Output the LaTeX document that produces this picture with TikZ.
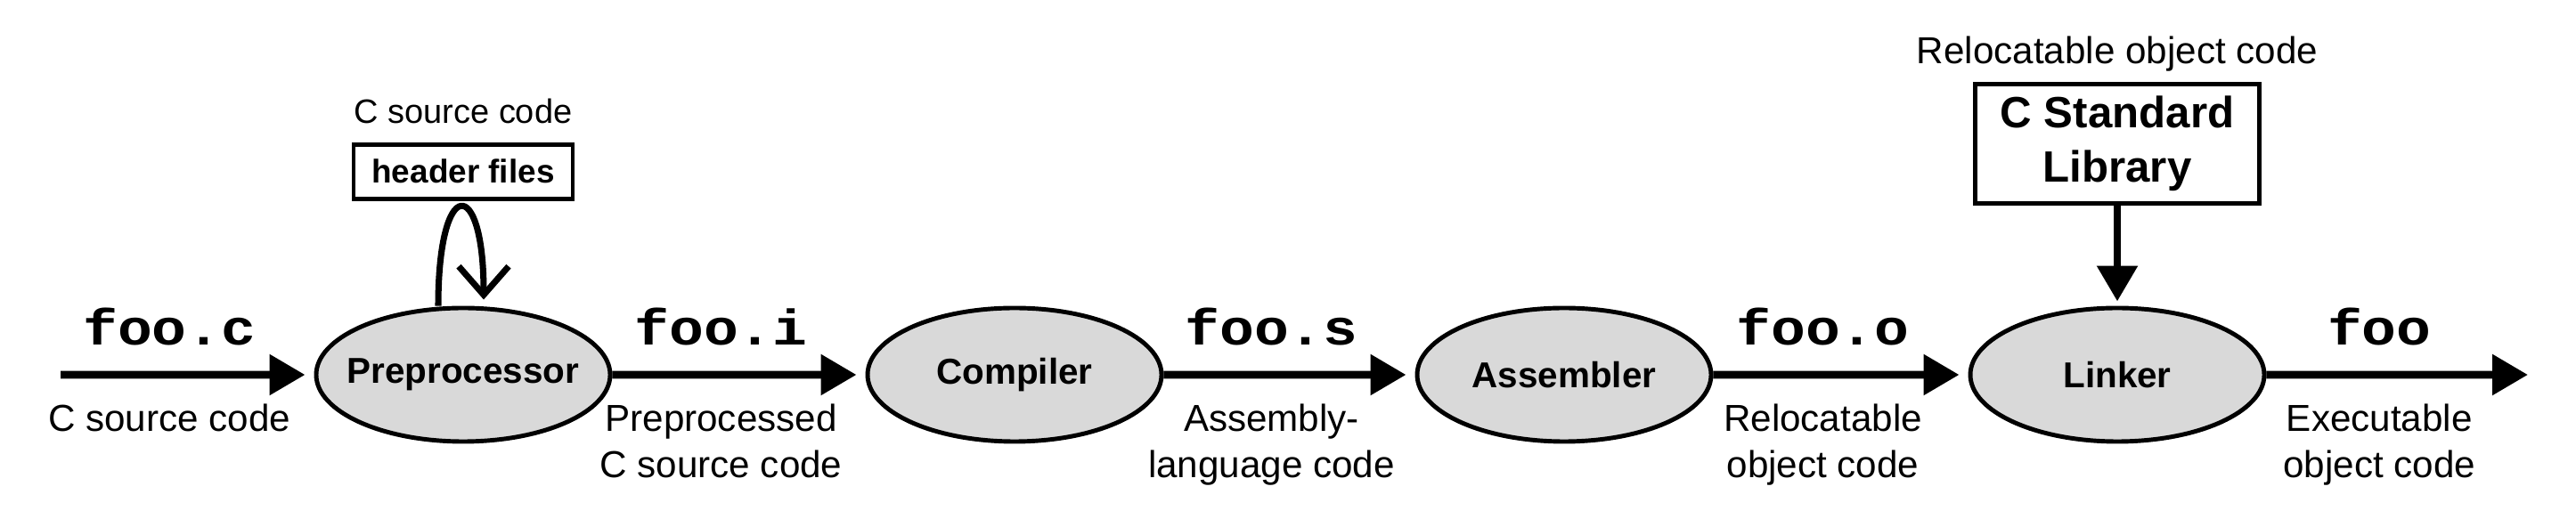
\documentclass[tikz,border=0pt]{standalone}
\usepackage{fontspec}
\setmainfont{Liberation Sans}
\newfontfamily\codefont[FakeStretch=1.15]{Liberation Mono}
\usetikzlibrary{arrows.meta,positioning,shapes.geometric}
\definecolor{stagegray}{HTML}{D9D9D9}
\begin{document}
\begin{tikzpicture}
		[level 1/.style={level distance=4.52cm},
		level 2/.style={level distance=6.19cm},
		level 3/.style={level distance=6.17cm},
		level 4/.style={level distance=6.21cm},
		level 5/.style={level distance=4.61cm},
		stage/.style={ellipse, draw, line width=1.4pt, fill=stagegray,
			minimum width=3.3cm, minimum height=1.5cm, inner xsep=-0.55cm, inner ysep=0pt,
			font=\fontsize{11.5}{14}\selectfont\bfseries},
		srcbox/.style={rectangle, draw, line width=1.4pt, inner sep=0pt, align=center},
		note/.style={inner sep=0pt, font=\fontsize{12}{15}\selectfont},
		file/.style={above=8pt, xshift=-2mm, inner sep=0pt,
			font=\fontsize{16}{18}\selectfont\codefont\bfseries},
		kind/.style={below=8pt, xshift=-2mm, inner sep=0pt, align=center,
			font=\fontsize{12}{15}\selectfont},
		flow/.style={line width=2.5pt, -{Triangle[length=4mm,width=4.4mm]}},
		edge from parent/.style={draw, flow, shorten >=1mm},
		]
		\useasboundingbox (0,0) rectangle (28.92,5.92);
		\node[coordinate] (in) at (0.68,1.71) {} [grow=right]
		child {node[stage] (pre) {Preprocessor}
			child {node[stage] (comp) {Compiler}
				child {node[stage] (asm) {Assembler}
					child {node[stage] (link) {Linker}
						child {coordinate (out)
							edge from parent[shorten >=0pt] node[file] {foo}
							node[kind] {Executable\\object code}
						}
						edge from parent node[file] {foo.o}
						node[kind] {Relocatable\\object code}
					}
					edge from parent node[file] {foo.s}
					node[kind] {Assembly-\\language code}
				}
				edge from parent node[file] {foo.i}
				node[kind] {Preprocessed\\C source code}
			}
			edge from parent node[file] {foo.c}
			node[kind] {C source code}}
		;
		
		\node[srcbox, minimum width=2.46cm, minimum height=0.61cm,
			font=\fontsize{10.5}{13}\selectfont\bfseries, above=1.18cm of pre] (hdr) {header files};
		\node[note, font=\fontsize{10.8}{13}\selectfont, above=0.2cm of hdr] (hdrnote) {C source code};
		\draw[line width=2pt, -{Straight Barb[length=3.2mm,width=5.6mm]}, shorten >=0.7mm]
			([xshift=-2.8mm]pre.north) .. controls +(0,1.47) and +(0,1.47) .. ([xshift=2.3mm]pre.north);
		
		\node[srcbox, minimum width=3.19cm, minimum height=1.34cm,
			font=\fontsize{14}{17.4}\selectfont\bfseries, above=1.125cm of link] (lib) {C Standard\\Library};
		\node[note, above=0.11cm of lib] (libnote) {Relocatable object code};
		\draw[flow, shorten >=0.5mm] (lib) -- (link);
	\end{tikzpicture}
\end{document}
